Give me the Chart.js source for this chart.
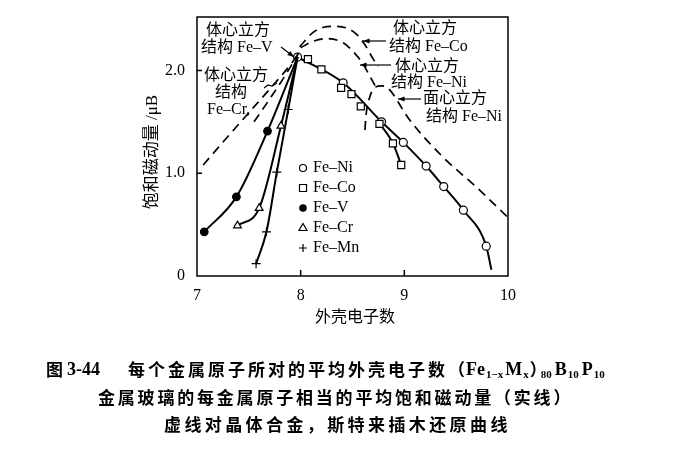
<!DOCTYPE html>
<html>
<head>
<meta charset="utf-8">
<script src="https://cdn.jsdelivr.net/npm/chart.js@4/dist/chart.umd.min.js"></script>
<style>
  html, body { margin: 0; padding: 0; background: #fff; }
  canvas { display: block; }
</style>
</head>
<body>
<canvas id="chart" width="688" height="461"></canvas>
<script>
// axis ticks
var xTicks = [7, 8, 9, 10];
var xTickLabels = ['7', '8', '9', '10'];
var yTicks = [0, 1, 2];
var yTickLabels = ['0', '1.0', '2.0'];

// amorphous (solid lines with markers)
var feNiX = [7.97, 8.41, 8.78, 8.99, 9.21, 9.38, 9.57, 9.79, 9.84];
var feNiY = [2.13, 1.88, 1.50, 1.30, 1.07, 0.87, 0.64, 0.29, 0.06];
var feCoX = [8.07, 8.20, 8.39, 8.49, 8.58, 8.76, 8.89, 8.97];
var feCoY = [2.11, 2.01, 1.83, 1.77, 1.65, 1.48, 1.29, 1.08];
var feVX = [7.07, 7.38, 7.68, 7.97];
var feVY = [0.43, 0.77, 1.41, 2.13];
var feCrX = [7.39, 7.60, 7.81, 7.97];
var feCrY = [0.49, 0.66, 1.46, 2.13];
var feMnX = [7.57, 7.67, 7.77, 7.88, 7.97];
var feMnY = [0.12, 0.43, 1.01, 1.62, 2.13];

// crystalline alloys (dashed, Slater-Pauling)
var bccFeCrX = [7.06, 7.30, 7.51, 7.72, 7.92, 7.99];
var bccFeCrY = [1.08, 1.36, 1.60, 1.84, 2.08, 2.18];
var bccFeVX = [7.55, 7.70, 7.85, 7.98];
var bccFeVY = [1.50, 1.72, 1.95, 2.17];
var bccFeCoX = [7.99, 8.12, 8.22, 8.33, 8.45, 8.54, 8.62, 8.70, 8.75];
var bccFeCoY = [2.23, 2.37, 2.42, 2.43, 2.41, 2.35, 2.25, 2.11, 2.04];
var bccFeNiX = [8.00, 8.11, 8.25, 8.41, 8.50, 8.59, 8.67, 8.74];
var bccFeNiY = [2.22, 2.28, 2.31, 2.27, 2.19, 2.08, 1.94, 1.81];
var fccFeNiX = [8.62, 8.63, 8.66, 8.71, 8.78, 8.84, 9.05, 9.37, 9.70, 10.0];
var fccFeNiY = [1.42, 1.56, 1.72, 1.83, 1.85, 1.83, 1.52, 1.16, 0.86, 0.57];

var legendNames = ['Fe–Ni', 'Fe–Co', 'Fe–V', 'Fe–Cr', 'Fe–Mn'];

function pts(xs, ys) {
    return xs.map(function (x, i) { return { x: x, y: ys[i] }; });
}

function dashed(xs, ys) {
    return {
        data: pts(xs, ys),
        showLine: true,
        borderColor: '#000',
        borderWidth: 1.7,
        borderDash: [9, 6],
        pointRadius: 0,
        cubicInterpolationMode: 'monotone'
    };
}

function solid(xs, ys, style, r, fill, hide) {
    return {
        data: pts(xs, ys),
        showLine: true,
        borderColor: '#000',
        borderWidth: 2,
        cubicInterpolationMode: 'monotone',
        pointStyle: style,
        pointBackgroundColor: fill,
        pointBorderColor: '#000',
        pointBorderWidth: 1.2,
        pointRadius: function (c) { return hide.indexOf(c.dataIndex) >= 0 ? 0 : r; }
    };
}

var feCo = solid(feCoX, feCoY, 'rect', 5, '#fff', []);
feCo.segment = { borderColor: function (c) { return c.p0DataIndex >= 5 ? '#000' : 'rgba(0,0,0,0)'; } };

var serif = '"Liberation Serif", "Noto Sans CJK SC"';

function arrow(ctx, x1, y1, x2, y2) {
    var ang = Math.atan2(y2 - y1, x2 - x1);
    ctx.beginPath();
    ctx.moveTo(x1, y1);
    ctx.lineTo(x2, y2);
    ctx.stroke();
    ctx.beginPath();
    ctx.moveTo(x2, y2);
    ctx.lineTo(x2 - 7 * Math.cos(ang - 0.35), y2 - 7 * Math.sin(ang - 0.35));
    ctx.lineTo(x2 - 7 * Math.cos(ang + 0.35), y2 - 7 * Math.sin(ang + 0.35));
    ctx.closePath();
    ctx.fill();
}

function marker(ctx, i, x, y) {
    ctx.beginPath();
    if (i == 0) {
        ctx.arc(x, y, 3.5, 0, Math.PI * 2);
        ctx.stroke();
    } else if (i == 1) {
        ctx.rect(x - 3.5, y - 3.5, 7, 7);
        ctx.stroke();
    } else if (i == 2) {
        ctx.arc(x, y, 3.8, 0, Math.PI * 2);
        ctx.fill();
    } else if (i == 3) {
        ctx.moveTo(x, y - 4.5);
        ctx.lineTo(x + 4, y + 2.5);
        ctx.lineTo(x - 4, y + 2.5);
        ctx.closePath();
        ctx.stroke();
    } else {
        ctx.moveTo(x - 4, y); ctx.lineTo(x + 4, y);
        ctx.moveTo(x, y - 4); ctx.lineTo(x, y + 4);
        ctx.stroke();
    }
}

// draws a run of characters with a fixed advance
function spaced(ctx, str, x, y, adv) {
    for (var i = 0; i < str.length; i++) {
        ctx.fillText(str[i], x + i * adv, y);
    }
    return x + str.length * adv;
}

function part(ctx, str, x, y, font) {
    ctx.font = font;
    ctx.fillText(str, x, y);
    return x + ctx.measureText(str).width;
}

var overlay = {
    id: 'overlay',
    afterDraw: function (chart) {
        var ctx = chart.ctx;
        var a = chart.chartArea;
        var xs = chart.scales.x, ys = chart.scales.y;
        ctx.save();
        ctx.strokeStyle = '#000';
        ctx.fillStyle = '#000';
        ctx.lineWidth = 1.5;
        ctx.strokeRect(a.left, a.top, a.right - a.left, a.bottom - a.top);

        // inward ticks
        ctx.beginPath();
        yTicks.forEach(function (v) {
            if (v > 0) {
                var p = ys.getPixelForValue(v);
                ctx.moveTo(a.left, p); ctx.lineTo(a.left + 5, p);
            }
        });
        xTicks.forEach(function (v) {
            if (v > xTicks[0] && v < xTicks[xTicks.length - 1]) {
                var p = xs.getPixelForValue(v);
                ctx.moveTo(p, a.bottom); ctx.lineTo(p, a.bottom - 6);
            }
        });
        ctx.stroke();

        // curve labels
        ctx.font = '16px ' + serif;
        ctx.textBaseline = 'middle';
        ctx.textAlign = 'left';
        ctx.fillText('体心立方', 206, 31);
        ctx.fillText('结构 Fe–V', 201, 48);
        ctx.fillText('体心立方', 204, 76);
        ctx.fillText('结构', 215, 93);
        ctx.fillText('Fe–Cr,', 207, 110);
        ctx.fillText('体心立方', 393, 29);
        ctx.fillText('结构 Fe–Co', 389, 47);
        ctx.fillText('体心立方', 395, 67);
        ctx.fillText('结构 Fe–Ni', 391, 83);
        ctx.fillText('面心立方', 423, 99);
        ctx.fillText('结构 Fe–Ni', 426, 117);

        ctx.lineWidth = 1.2;
        arrow(ctx, 281, 47, 294, 57);
        arrow(ctx, 386, 41, 363, 41);
        arrow(ctx, 391, 65, 360, 65);
        arrow(ctx, 421, 99, 398, 99);
        ctx.beginPath();
        ctx.moveTo(264, 88); ctx.lineTo(268, 85); ctx.lineTo(272, 86); ctx.lineTo(277, 83);
        ctx.stroke();

        // legend
        ctx.lineWidth = 1.2;
        ctx.font = '16px ' + serif;
        legendNames.forEach(function (n, i) {
            var y = 168 + i * 20;
            marker(ctx, i, 303, y);
            ctx.fillText(n, 313, y);
        });

        // axis titles
        ctx.font = '16px ' + serif;
        ctx.textAlign = 'center';
        ctx.fillText('外壳电子数', 355, 318);
        ctx.save();
        ctx.translate(153, 152);
        ctx.rotate(-Math.PI / 2);
        ctx.font = '17px ' + serif;
        ctx.fillText('饱和磁动量 /μB', 0, 0);
        ctx.restore();

        // caption
        ctx.textAlign = 'left';
        var cjk = 'bold 17px "Noto Sans CJK SC"';
        var lat = 'bold 18px "Liberation Serif"';
        var sub = 'bold 11px "Liberation Serif"';
        var y1 = 370, x;
        part(ctx, '图', 46, y1, cjk);
        part(ctx, '3-44', 67, y1, lat);
        ctx.font = cjk;
        x = spaced(ctx, '每个金属原子所对的平均外壳电子数', 128, y1, 20);
        x = part(ctx, '（', x, y1, cjk) + 1;
        x = part(ctx, 'Fe', x, y1, lat) + 1;
        x = part(ctx, '1−x', x, y1 + 5, sub) + 2;
        x = part(ctx, 'M', x, y1, lat) + 1;
        x = part(ctx, 'x', x, y1 + 5, sub) + 1;
        x = part(ctx, '）', x, y1, cjk) - 6;
        x = part(ctx, '80', x, y1 + 5, sub) + 3;
        x = part(ctx, 'B', x, y1, lat) + 1;
        x = part(ctx, '10', x, y1 + 5, sub) + 3;
        x = part(ctx, 'P', x, y1, lat) + 1;
        part(ctx, '10', x, y1 + 5, sub);

        ctx.font = cjk;
        spaced(ctx, '金属玻璃的每金属原子相当的平均饱和磁动量（实线）', 98, 398, 19.8);
        spaced(ctx, '虚线对晶体合金，斯特来插木还原曲线', 164, 425, 20.4);
        ctx.restore();
    }
};

new Chart(document.getElementById('chart'), {
    type: 'scatter',
    data: {
        datasets: [
            dashed(bccFeCrX, bccFeCrY),
            dashed(bccFeVX, bccFeVY),
            dashed(bccFeCoX, bccFeCoY),
            dashed(bccFeNiX, bccFeNiY),
            dashed(fccFeNiX, fccFeNiY),
            feCo,
            solid(feVX, feVY, 'circle', 3.8, '#000', [3]),
            solid(feCrX, feCrY, 'triangle', 4.5, '#fff', [3]),
            solid(feMnX, feMnY, 'cross', 4.5, '#fff', [4]),
            solid(feNiX, feNiY, 'circle', 4, '#fff', [8])
        ]
    },
    options: {
        responsive: false,
        animation: false,
        layout: { padding: { left: 0, top: 17, right: 180, bottom: 155 } },
        plugins: { legend: { display: false }, tooltip: { enabled: false } },
        scales: {
            x: {
                type: 'linear',
                min: 7,
                max: 10,
                afterFit: function (s) { s.height = 30; },
                afterBuildTicks: function (s) { s.ticks = xTicks.map(function (v) { return { value: v }; }); },
                grid: { display: false },
                border: { display: false },
                ticks: {
                    padding: 2,
                    color: '#000',
                    font: { family: 'Liberation Serif', size: 16 },
                    callback: function (v, i) { return xTickLabels[i]; }
                }
            },
            y: {
                type: 'linear',
                min: 0,
                max: 2.52,
                afterFit: function (s) { s.width = 197; },
                afterBuildTicks: function (s) { s.ticks = yTicks.map(function (v) { return { value: v }; }); },
                grid: { display: false },
                border: { display: false },
                ticks: {
                    padding: 4,
                    color: '#000',
                    font: { family: 'Liberation Serif', size: 16 },
                    callback: function (v, i) { return yTickLabels[i]; }
                }
            }
        }
    },
    plugins: [overlay]
});
</script>
</body>
</html>
